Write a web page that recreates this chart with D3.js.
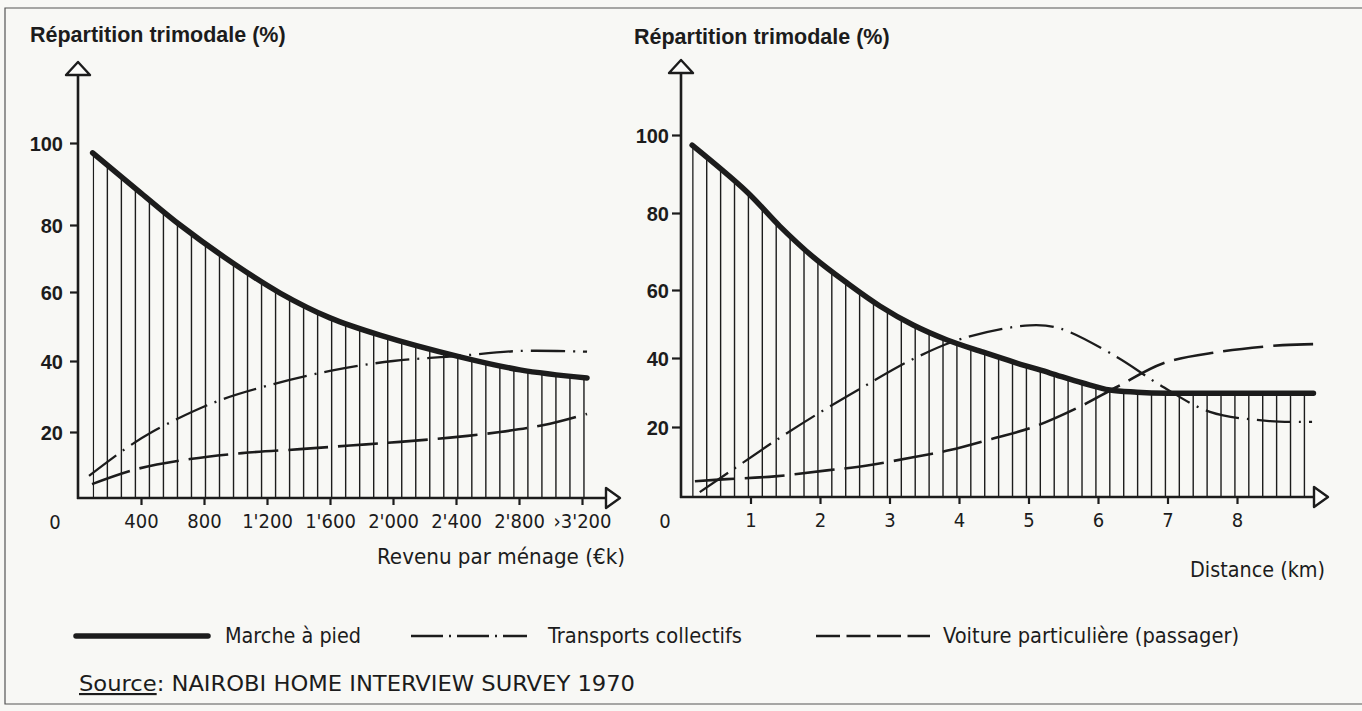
<!DOCTYPE html>
<html><head><meta charset="utf-8">
<script src="https://cdn.jsdelivr.net/npm/d3@7"></script>
<style>
html,body{margin:0;padding:0;background:#f8f8f5;}
svg{display:block}
</style></head><body>
<svg id="c" width="1362" height="711"></svg>
<script>
// ---------------- DATA ----------------
const pctTicks = [20, 40, 60, 80, 100];
const incomeTicks = [400, 800, 1200, 1600, 2000, 2400, 2800, 3200];
const incomeTickLabels = ["400", "800", "1'200", "1'600", "2'000", "2'400", "2'800", "\u203A3'200"];
const distTicks = [1, 2, 3, 4, 5, 6, 7, 8];
const distTickLabels = ["1", "2", "3", "4", "5", "6", "7", "8"];

// household income (k) -> modal share (%)
const incomeMarche = [[93,97.6],[400,87.8],[648,80],[997,68.2],[1283,59.7],[1600,52.5],[1917,47.5],[2425,41.2],[2806,37.5],[3232,35.2]];
const incomeTransport = [[70,6.7],[298,14.8],[470,20],[857,28.2],[1200,33],[1600,37.2],[2000,40],[2400,41.4],[2800,42.9],[3232,42.7]];
const incomeVoiture = [[89,4.2],[375,8.8],[711,11.8],[1041,13.6],[1410,14.8],[1727,15.9],[2044,17],[2362,18.3],[2679,20],[2997,22.3],[3232,25.1]];

// trip distance (km) -> modal share (%)
const distMarche = [[0.16,97.4],[0.95,85.4],[1.42,76.6],[1.9,68.6],[2.39,61.8],[2.86,55.3],[3.34,49.7],[3.83,45.3],[4.35,41.7],[4.83,38.55],[5.31,35.65],[5.78,32.75],[6.17,30.7],[6.56,30.1],[7,29.8],[8,29.8],[9.1,29.8]];
const distTransport = [[0.27,1.4],[0.75,7.9],[1.42,16.9],[2.03,24.6],[2.62,31.6],[3.34,39.7],[4.06,45.8],[5.02,49.6],[5.45,48.7],[6.27,40.3],[6.89,32.2],[7.61,24.4],[8.43,21.8],[9.08,21.5]];
const distVoiture = [[0.2,4.5],[0.66,5.1],[1.35,5.9],[2.1,7.6],[2.68,9],[3.32,11.3],[3.87,13.4],[4.47,16.6],[5.07,20],[5.7,25.5],[6.27,31.6],[6.94,38.5],[7.71,41.7],[8.66,43.8],[9.12,44.1]];

const legendLabels = ["Marche \u00E0 pied", "Transports collectifs", "Voiture particuli\u00E8re (passager)"];

// ---------------- DRAW ----------------
const INK = "#1c1c1c";
const BOLD = "'Liberation Sans', Arial, sans-serif";
const NARROW = "'Liberation Sans Narrow', 'Arial Narrow', 'DejaVu Sans Condensed', sans-serif";
const svg = d3.select("#c");

svg.append("rect").attr("width",1362).attr("height",711).attr("fill","#f8f8f5");
svg.append("path").attr("d","M1362,8 H5 V704 H1362").attr("fill","none").attr("stroke","#555").attr("stroke-width",1.2);

function panel(cfg){
  const g = svg.append("g");
  const x = d3.scaleLinear().domain(cfg.xDomain).range(cfg.xRange);
  const y = d3.scaleLinear().domain([0,20,40,60,80,100]).range(cfg.yRange);
  const x0 = cfg.xRange[0], y0 = cfg.yRange[0];

  // vertical hatching under the walking curve
  const clipId = "clip" + cfg.id;
  const area = d3.area().curve(d3.curveCatmullRom.alpha(0.5)).x(d=>x(d[0])).y0(y0).y1(d=>y(d[1]));
  g.append("clipPath").attr("id",clipId).append("path").attr("d",area(cfg.marche));
  const first = cfg.marche[0][0], last = cfg.marche[cfg.marche.length-1][0];
  const hatch = d3.range(first + cfg.hatchStep*0.05, last, cfg.hatchStep);
  g.append("g").attr("clip-path",`url(#${clipId})`).selectAll("line").data(hatch).join("line")
    .attr("x1",d=>x(d)).attr("x2",d=>x(d)).attr("y1",y0).attr("y2",y(100)-10)
    .attr("stroke",INK).attr("stroke-width",1.4);

  // y axis ticks/labels
  const yAxis = d3.axisLeft(y).tickValues(pctTicks).tickSize(cfg.yTickLen).tickPadding(cfg.yPad).tickFormat(d3.format("d"));
  const ga = g.append("g").attr("transform",`translate(${x0},0)`).call(yAxis);
  ga.select(".domain").remove();
  ga.selectAll("line").attr("stroke",INK).attr("stroke-width",2.2);
  ga.selectAll("text").attr("font-family",BOLD).attr("font-weight","bold").attr("font-size",20).attr("fill",INK).attr("dy","0.36em");

  // x axis ticks/labels
  const xAxis = d3.axisBottom(x).tickValues(cfg.xTicks).tickSize(7).tickPadding(9).tickFormat((d,i)=>cfg.xLabels[i]);
  const gx = g.append("g").attr("transform",`translate(0,${y0})`).call(xAxis);
  gx.select(".domain").remove();
  gx.selectAll("line").attr("stroke",INK).attr("stroke-width",2.2);
  gx.selectAll("text").attr("font-family",NARROW).attr("font-size",20).attr("fill",INK);

  // axis lines + open arrow heads
  const topY = cfg.topY;
  g.append("path").attr("d",`M${x0},${y0+1} V${topY+13}`).attr("stroke",INK).attr("stroke-width",2.6).attr("fill","none");
  g.append("path").attr("d",`M${x0},${topY} L${x0+12},${topY+13} H${x0-12} Z`).attr("stroke",INK).attr("stroke-width",2.4).attr("fill","#fcfcfa").attr("stroke-linejoin","round");
  g.append("path").attr("d",`M${x0-1},${y0} H${cfg.arrowX}`).attr("stroke",INK).attr("stroke-width",2.6).attr("fill","none");
  g.append("path").attr("d",`M${cfg.arrowX+14},${y0} L${cfg.arrowX},${y0-10} V${y0+10} Z`).attr("stroke",INK).attr("stroke-width",2.4).attr("fill","#fcfcfa").attr("stroke-linejoin","round");

  g.append("text").attr("x",cfg.zeroX).attr("y",y0+31).attr("text-anchor","middle")
    .attr("font-family",NARROW).attr("font-size",20).attr("fill",INK).text("0");

  // series
  const line = d3.line().x(d=>x(d[0])).y(d=>y(d[1])).curve(d3.curveCatmullRom.alpha(0.5));
  g.append("path").attr("d",line(cfg.voiture)).attr("fill","none")
    .attr("stroke",INK).attr("stroke-width",2.6).attr("stroke-dasharray","40,10");
  g.append("path").attr("d",line(cfg.transport)).attr("fill","none")
    .attr("stroke",INK).attr("stroke-width",2.3).attr("stroke-dasharray","34,8,2,8");
  g.append("path").attr("d",line(cfg.marche)).attr("fill","none")
    .attr("stroke",INK).attr("stroke-width",5.5).attr("stroke-linecap","round");

  // titles
  g.append("text").attr("x",cfg.titleX).attr("y",cfg.titleY).attr("font-family",BOLD).attr("font-weight","bold")
    .attr("font-size",21.5).attr("fill",INK).text("R\u00E9partition trimodale (%)");
  g.append("text").attr("x",cfg.xTitleX).attr("y",cfg.xTitleY).attr("font-family",NARROW)
    .attr("font-size",21.5).attr("fill",INK).attr("textLength",cfg.xTitleW).attr("lengthAdjust","spacingAndGlyphs").text(cfg.xTitle);
}

panel({id:"L", xDomain:[0,3200], xRange:[78,582], yRange:[498,432,361,292,225,143],
  marche:incomeMarche, transport:incomeTransport, voiture:incomeVoiture,
  xTicks:incomeTicks, xLabels:incomeTickLabels, hatchStep:89, yTickLen:8, yPad:7, topY:62,
  arrowX:606, zeroX:55, titleX:30, titleY:42, xTitleX:377, xTitleW:248, xTitleY:564, xTitle:"Revenu par m\u00E9nage (\u20ACk)"});

panel({id:"R", xDomain:[0,8], xRange:[681,1237], yRange:[497,427,358,290,213,135],
  marche:distMarche, transport:distTransport, voiture:distVoiture,
  xTicks:distTicks, xLabels:distTickLabels, hatchStep:0.2, yTickLen:9, yPad:3, topY:60,
  arrowX:1314, zeroX:665, titleX:634, titleY:44, xTitleX:1190, xTitleW:135, xTitleY:577, xTitle:"Distance (km)"});

// legend
const lg = svg.append("g");
const legY = 636;
lg.append("line").attr("x1",76).attr("x2",208).attr("y1",legY).attr("y2",legY).attr("stroke",INK).attr("stroke-width",5.5).attr("stroke-linecap","round");
lg.append("line").attr("x1",411).attr("x2",527).attr("y1",legY).attr("y2",legY).attr("stroke",INK).attr("stroke-width",2.4).attr("stroke-dasharray","32,6,2,6");
lg.append("line").attr("x1",816).attr("x2",930).attr("y1",legY).attr("y2",legY).attr("stroke",INK).attr("stroke-width",2.6).attr("stroke-dasharray","24,6.5");
const legX = [225, 548, 943];
const legW = [136, 194, 296];
lg.selectAll("text").data(legendLabels).join("text").attr("x",(d,i)=>legX[i]).attr("y",legY+7)
  .attr("font-family",NARROW).attr("font-size",21.5).attr("fill",INK)
  .attr("textLength",(d,i)=>legW[i]).attr("lengthAdjust","spacingAndGlyphs").text(d=>d);

// source
const src = svg.append("text").attr("x",79).attr("y",691).attr("font-family",NARROW).attr("font-size",21.5).attr("fill",INK)
  .attr("textLength",556).attr("lengthAdjust","spacingAndGlyphs");
src.append("tspan").attr("text-decoration","underline").text("Source");
src.append("tspan").text(": NAIROBI HOME INTERVIEW SURVEY 1970");
</script>
</body></html>
